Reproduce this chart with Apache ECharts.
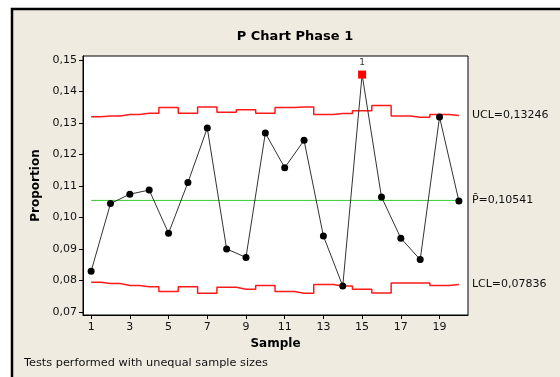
<!DOCTYPE html>
<html>
<head>
<meta charset="utf-8">
<script src="https://cdn.jsdelivr.net/npm/echarts@6/dist/echarts.min.js"></script>
<style>
  html, body { margin: 0; padding: 0; background: #fff; }
  #chart { width: 560px; height: 377px; }
</style>
</head>
<body>
<div id="chart"></div>
<script>
// sample numbers
var samples = [1, 2, 3, 4, 5, 6, 7, 8, 9, 10, 11, 12, 13, 14, 15, 16, 17, 18, 19, 20];
// proportion per sample
var proportion = [0.0829, 0.1044, 0.1074, 0.1087, 0.0950, 0.1111, 0.1284, 0.0900, 0.0873, 0.1268,
                  0.1158, 0.1245, 0.0941, 0.0782, 0.1454, 0.1065, 0.0934, 0.0866, 0.1319, 0.1052];
// control limits (unequal sample sizes -> stepped)
var ucl = [0.1320, 0.1322, 0.1327, 0.1331, 0.1349, 0.1331, 0.1351, 0.1334, 0.1342, 0.1331,
           0.1349, 0.1351, 0.1327, 0.1330, 0.1339, 0.1356, 0.1322, 0.1318, 0.1327, 0.1324];
var lcl = [0.0794, 0.0790, 0.0784, 0.0780, 0.0765, 0.0780, 0.0759, 0.0778, 0.0772, 0.0784,
           0.0765, 0.0759, 0.0787, 0.0782, 0.0772, 0.0760, 0.0792, 0.0792, 0.0784, 0.0787];
var pBar = 0.10541;
// tests failed: sample 15 above UCL
var failed = [15];
var xTicks = [1, 3, 5, 7, 9, 11, 13, 15, 17, 19];
var yTicks = [0.07, 0.08, 0.09, 0.10, 0.11, 0.12, 0.13, 0.14, 0.15];

var font = 'DejaVu Sans';

function pairs(vals) {
  return samples.map(function (s, i) { return [s, vals[i]]; });
}

var pointData = samples.map(function (s, i) {
  if (failed.indexOf(s) >= 0) {
    return {
      value: [s, proportion[i]],
      symbol: 'rect',
      symbolSize: 8,
      itemStyle: { color: '#ff0000' },
      label: { show: true, formatter: '1', position: 'top', distance: 3, fontSize: 9, color: '#333', fontFamily: font }
    };
  }
  return [s, proportion[i]];
});

var chart = echarts.init(document.getElementById('chart'));
chart.setOption({
  animation: false,
  backgroundColor: '#fff',
  textStyle: { fontFamily: font },
  graphic: [
    {
      type: 'rect', z: -10, silent: true,
      shape: { x: 12, y: 9, width: 560, height: 380 },
      style: { fill: '#efebe1', stroke: '#000', lineWidth: 2.5 }
    },
    {
      type: 'text', left: 24, top: 358, silent: true,
      style: { text: 'Tests performed with unequal sample sizes', fontSize: 11.3, fontFamily: font, fill: '#111' }
    }
  ],
  title: {
    text: 'P Chart Phase 1',
    left: 290, top: 25, textAlign: 'center',
    textStyle: { fontSize: 13, fontWeight: 'bold', color: '#000', fontFamily: font }
  },
  grid: {
    left: 83, right: 92, top: 56, bottom: 62,
    show: true, backgroundColor: '#fff', borderColor: '#000', borderWidth: 1
  },
  xAxis: {
    type: 'value', min: 0.58, max: 20.47,
    name: 'Sample', nameLocation: 'middle', nameGap: 21,
    nameTextStyle: { fontSize: 12, fontWeight: 'bold', color: '#000' },
    axisLine: { show: true, lineStyle: { color: '#000' } },
    axisTick: { show: true, length: 4, lineStyle: { color: '#000' }, customValues: xTicks },
    axisLabel: { fontSize: 11, color: '#111', margin: 7, customValues: xTicks },
    splitLine: { show: false }
  },
  yAxis: {
    type: 'value', min: 0.069, max: 0.1513,
    name: 'Proportion', nameLocation: 'middle', nameGap: 40, nameRotate: 90,
    nameTextStyle: { fontSize: 12, fontWeight: 'bold', color: '#000' },
    axisLine: { show: true, lineStyle: { color: '#000' } },
    axisTick: { show: true, length: 4, lineStyle: { color: '#000' }, customValues: yTicks },
    axisLabel: {
      fontSize: 11, color: '#111', margin: 6, customValues: yTicks,
      formatter: function (v) { return v.toFixed(2).replace('.', ','); }
    },
    splitLine: { show: false }
  },
  series: [
    {
      name: 'UCL', type: 'line', step: 'middle', data: pairs(ucl),
      symbol: 'none', lineStyle: { color: '#ff1a1a', width: 1.5 },
      endLabel: { show: true, formatter: 'UCL=0,13246', distance: 13, fontSize: 11, color: '#111', fontFamily: font }
    },
    {
      name: 'LCL', type: 'line', step: 'middle', data: pairs(lcl),
      symbol: 'none', lineStyle: { color: '#ff1a1a', width: 1.5 },
      endLabel: { show: true, formatter: 'LCL=0,07836', distance: 13, fontSize: 11, color: '#111', fontFamily: font }
    },
    {
      name: 'P', type: 'line', data: [[samples[0], pBar], [samples[samples.length - 1], pBar]],
      symbol: 'none', lineStyle: { color: '#33cc33', width: 1 },
      endLabel: { show: true, formatter: 'P\u0304=0,10541', distance: 13, fontSize: 11, color: '#111', fontFamily: font }
    },
    {
      name: 'Proportion', type: 'line', data: pointData,
      symbol: 'circle', symbolSize: 7, showAllSymbol: true,
      itemStyle: { color: '#000' },
      lineStyle: { color: '#333', width: 1 },
      z: 5
    }
  ]
});
</script>
</body>
</html>
